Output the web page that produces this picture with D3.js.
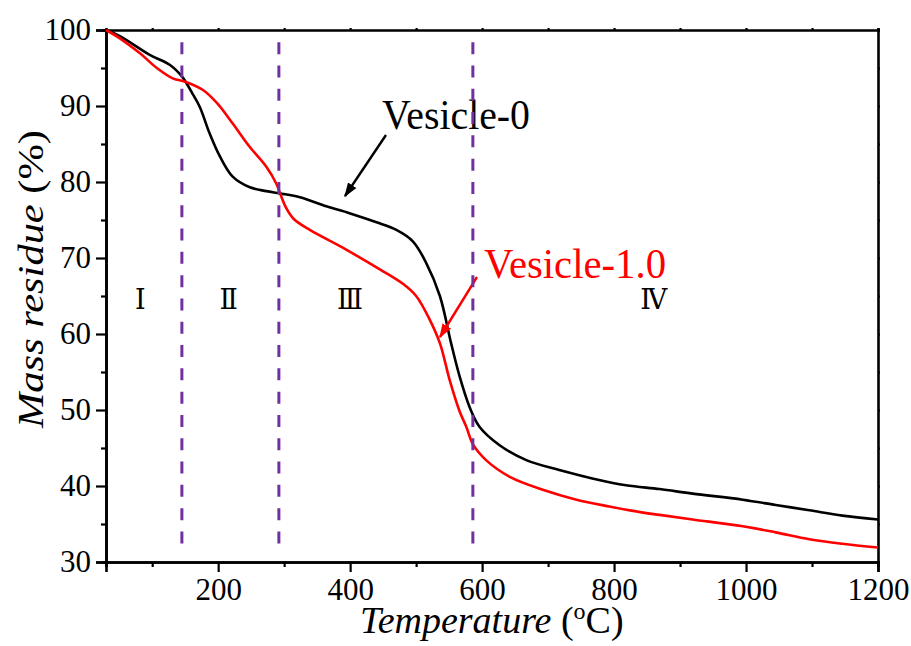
<!DOCTYPE html>
<html>
<head>
<meta charset="utf-8">
<script src="https://cdn.jsdelivr.net/npm/d3@7/dist/d3.min.js"></script>
<style>
  html, body { margin: 0; padding: 0; background: #fff; }
</style>
</head>
<body>
<svg id="chart" width="911" height="646" font-family="'Liberation Serif', 'Times New Roman', serif"></svg>
<script>
// ---- Data ----
const vesicle0Temp = [30, 51, 97, 127, 145, 152, 160, 172, 187, 203, 222, 248, 273, 293, 324, 364, 399, 440, 470, 495, 515, 536, 553, 566, 581, 596, 626, 667, 717, 767, 818, 869, 919, 995, 1045, 1096, 1146, 1200];
const vesicle0Mass = [100, 99.2, 96.7, 95.4, 93.9, 93.0, 91.8, 89.9, 86.4, 83.3, 80.7, 79.3, 78.8, 78.5, 78.0, 76.8, 75.9, 74.7, 73.7, 72.2, 69.4, 65.0, 58.8, 54.4, 50.4, 47.8, 45.4, 43.4, 42.1, 41.0, 40.1, 39.6, 39.0, 38.2, 37.5, 36.8, 36.1, 35.6];

const vesicle1Temp = [30, 51, 82, 107, 132, 150, 177, 198, 222, 248, 273, 288, 293, 303, 315, 339, 394, 445, 480, 500, 520, 536, 551, 566, 576, 586, 606, 642, 692, 743, 793, 844, 869, 919, 995, 1045, 1096, 1146, 1200];
const vesicle1Mass = [100, 98.9, 96.9, 95.0, 93.6, 93.2, 92.1, 90.4, 87.7, 84.6, 82.0, 79.8, 78.7, 76.6, 75.1, 73.7, 71.1, 68.5, 66.6, 65.0, 62.0, 58.8, 53.9, 49.8, 47.8, 45.5, 43.4, 41.2, 39.5, 38.2, 37.3, 36.5, 36.2, 35.6, 34.7, 33.9, 33.0, 32.4, 31.9];

const stageBoundaries = [145, 292, 586];
const stageLabels = ["Ⅰ", "Ⅱ", "Ⅲ", "Ⅳ"];
const stageLabelTemp = [82, 216, 400, 860];
const stageLabelMass = 64.6;

const xMajorTicks = [200, 400, 600, 800, 1000, 1200];
const xMinorTicks = [100, 300, 500, 700, 900, 1100];
const yMajorTicks = [30, 40, 50, 60, 70, 80, 90, 100];
const yMinorTicks = [35, 45, 55, 65, 75, 85, 95];

const seriesNames = ["Vesicle-0", "Vesicle-1.0"];

// ---- Layout ----
const FONT = "'Liberation Serif', 'Times New Roman', serif";
const svg = d3.select("#chart");
const pL = 106, pR = 878, pT = 30, pB = 562;
const x = d3.scaleLinear().domain([30, 1200]).range([pL, pR]);
const y = d3.scaleLinear().domain([30, 100]).range([pB, pT]);

// Bottom axis
svg.append("g").attr("transform", `translate(0,${pB})`)
  .call(d3.axisBottom(x).tickValues(xMajorTicks).tickSize(10).tickPadding(6).tickFormat(d3.format("d")));
svg.append("g").attr("transform", `translate(0,${pB})`)
  .call(d3.axisBottom(x).tickValues(xMinorTicks).tickSize(5).tickFormat(""));
// Left axis
svg.append("g").attr("transform", `translate(${pL},0)`)
  .call(d3.axisLeft(y).tickValues(yMajorTicks).tickSize(10).tickPadding(5).tickFormat(d3.format("d")));
svg.append("g").attr("transform", `translate(${pL},0)`)
  .call(d3.axisLeft(y).tickValues(yMinorTicks).tickSize(5).tickFormat(""));
// Top axis
svg.append("g").attr("transform", `translate(0,${pT})`)
  .call(d3.axisTop(x).tickValues(xMajorTicks.concat(xMinorTicks)).tickSize(2).tickFormat(""));
// Right axis
svg.append("g").attr("transform", `translate(${pR},0)`)
  .call(d3.axisRight(y).tickValues(yMajorTicks.concat(yMinorTicks)).tickSize(2).tickFormat(""));

svg.selectAll("g").attr("font-family", FONT).attr("font-size", 31);
svg.selectAll(".domain").attr("stroke", "#000").attr("stroke-width", 2.6);
svg.selectAll(".tick line").attr("stroke", "#000").attr("stroke-width", 2.2);
svg.selectAll(".tick text").attr("fill", "#000").attr("font-family", FONT).attr("font-size", 31);

// Curves
const line = d3.line().curve(d3.curveCatmullRom.alpha(0.5)).x(d => x(d[0])).y(d => y(d[1]));
const s0 = vesicle0Temp.map((t, i) => [t, vesicle0Mass[i]]);
const s1 = vesicle1Temp.map((t, i) => [t, vesicle1Mass[i]]);

svg.append("path").datum(s0).attr("d", line)
  .attr("fill", "none").attr("stroke", "#000").attr("stroke-width", 2.6);
svg.append("path").datum(s1).attr("d", line)
  .attr("fill", "none").attr("stroke", "#ff0000").attr("stroke-width", 2.6);

// Stage labels
svg.selectAll(".stage").data(stageLabels).enter().append("text")
  .attr("x", (d, i) => x(stageLabelTemp[i]))
  .attr("y", y(stageLabelMass) + 10)
  .attr("text-anchor", "middle")
  .attr("font-size", 27)
  .attr("font-family", "'DejaVu Serif', serif")
  .text(d => d);

// Annotations
const defs = svg.append("defs");
function marker(id, color) {
  defs.append("marker").attr("id", id)
    .attr("viewBox", "0 0 10 10").attr("refX", 9).attr("refY", 5)
    .attr("markerWidth", 6).attr("markerHeight", 6).attr("orient", "auto")
    .attr("markerUnits", "strokeWidth")
    .append("path").attr("d", "M0,1.5 L10,5 L0,8.5 Z").attr("fill", color);
}
marker("arrBlack", "#000");
marker("arrRed", "#ff0000");

svg.append("text").attr("x", 382).attr("y", 129)
  .attr("textLength", 148).attr("lengthAdjust", "spacingAndGlyphs")
  .attr("font-family", FONT).attr("font-size", 43).attr("fill", "#000").text(seriesNames[0]);
svg.append("line")
  .attr("x1", 386).attr("y1", 135).attr("x2", 345).attr("y2", 196)
  .attr("stroke", "#000").attr("stroke-width", 2.4).attr("marker-end", "url(#arrBlack)");

svg.append("text").attr("x", 484).attr("y", 278)
  .attr("textLength", 182).attr("lengthAdjust", "spacingAndGlyphs")
  .attr("font-family", FONT).attr("font-size", 42).attr("fill", "#ff0000").text(seriesNames[1]);
svg.append("line")
  .attr("x1", 477).attr("y1", 277).attr("x2", 440).attr("y2", 337)
  .attr("stroke", "#ff0000").attr("stroke-width", 2.4).attr("marker-end", "url(#arrRed)");

// Stage boundary dashed lines (drawn on top)
svg.selectAll(".bound").data(stageBoundaries).enter().append("line")
  .attr("x1", d => x(d)).attr("x2", d => x(d))
  .attr("y1", y(98.4)).attr("y2", y(31.3))
  .attr("stroke", "#7030a0").attr("stroke-width", 3)
  .attr("stroke-dasharray", "12,11.3");

// Axis titles
const xt = svg.append("text").attr("x", 360).attr("y", 633)
  .attr("font-family", FONT).attr("font-size", 38).attr("fill", "#000");
xt.append("tspan").attr("font-style", "italic").text("Temperature");
xt.append("tspan").text(" (");
xt.append("tspan").attr("dy", -14).attr("font-size", 24).text("o");
xt.append("tspan").attr("dy", 14).text("C)");

const yt = svg.append("text")
  .attr("transform", `translate(43,279) rotate(-90)`)
  .attr("text-anchor", "middle")
  .attr("textLength", 298).attr("lengthAdjust", "spacingAndGlyphs")
  .attr("font-family", FONT).attr("font-size", 35).attr("fill", "#000");
yt.append("tspan").attr("font-style", "italic").text("Mass residue");
yt.append("tspan").text(" (%)");
</script>
</body>
</html>
